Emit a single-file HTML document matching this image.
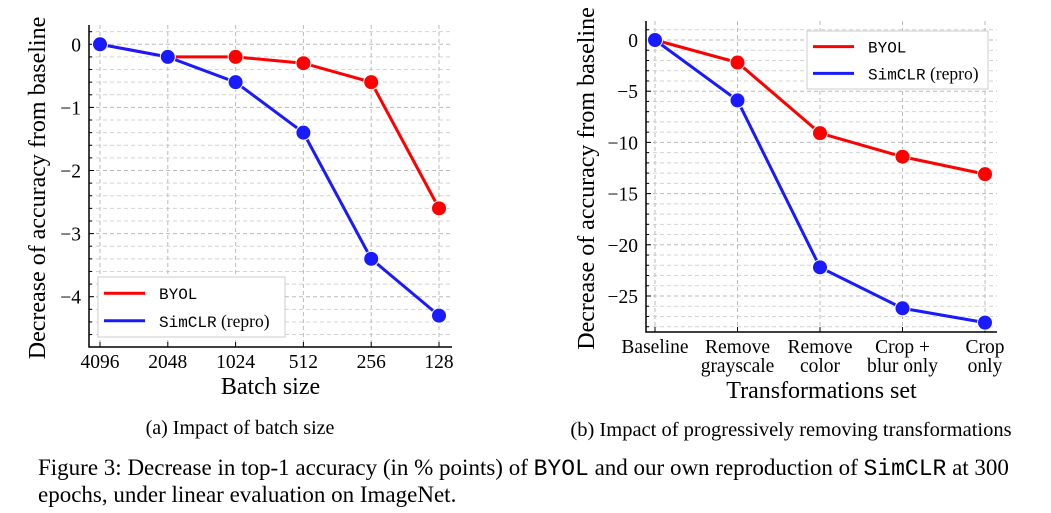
<!DOCTYPE html>
<html><head><meta charset="utf-8"><style>
body{margin:0;background:#fff;width:1051px;height:513px;overflow:hidden}
svg{display:block}
text{font-family:"Liberation Serif",serif;fill:#000}
.mono{font-family:"Liberation Mono",monospace}
</style></head><body>
<svg id="s" width="1051" height="513">
<text x="240" y="434" font-size="20" text-anchor="middle">(a) Impact of batch size</text>
<text x="791" y="436" font-size="20.5" text-anchor="middle">(b) Impact of progressively removing transformations</text>
<text x="38" y="475" font-size="23">Figure 3: Decrease in top-1 accuracy (in % points) of <tspan class="mono">BYOL</tspan> and our own reproduction of <tspan class="mono">SimCLR</tspan> at 300</text>
<text x="38" y="502" font-size="23">epochs, under linear evaluation on ImageNet.</text>
</svg>
<script>
// Chart A
const catsA=["4096","2048","1024","512","256","128"];
const byolA=[0,-0.2,-0.2,-0.3,-0.6,-2.6];
const simA=[0,-0.2,-0.6,-1.4,-3.4,-4.3];
const ticksA=[0,-1,-2,-3,-4];
// Chart B
const catsB=[["Baseline"],["Remove","grayscale"],["Remove","color"],["Crop +","blur only"],["Crop","only"]];
const byolB=[0,-2.2,-9.1,-11.4,-13.1];
const simB=[0,-5.9,-22.2,-26.2,-27.6];
const ticksB=[0,-5,-10,-15,-20,-25];

const NS="http://www.w3.org/2000/svg";
const svg=document.getElementById('s');
function mk(tag,at,parent){const e=document.createElementNS(NS,tag);for(const k in at)e.setAttribute(k,at[k]);(parent||svg).appendChild(e);return e;}

function chart(o){
  const g=mk('g',{});
  
  
  const X=i=>o.x0+i*(o.x1-o.x0)/(o.n-1);
  const Y=v=>o.y0+(0-v)*o.py;
  for(let v=o.ymax;v>=o.ymin;v-=o.minor){
    const vv=Math.round(v/o.minor)*o.minor; if(vv>o.ymax||vv<o.ymin) continue;
    const y=Y(vv);
    const major=o.ticks.some(t=>Math.abs(t-vv)<1e-6);
    const l=mk('line',{x1:o.L,x2:o.R,y1:y,y2:y,stroke:major?'#bbb':'#d4d4d4','stroke-width':1,'stroke-dasharray':'4,3'},g);
    
    
    mk('line',{x1:o.L,x2:o.L+(major?5:3),y1:y,y2:y,stroke:'#000','stroke-width':1},g);
  }
  for(let i=0;i<o.n;i++){
    const l=mk('line',{x1:X(i),x2:X(i),y1:o.T,y2:o.B,stroke:'#bbb','stroke-width':1,'stroke-dasharray':'4,3'},g);
    
    
    mk('line',{x1:X(i),x2:X(i),y1:o.B,y2:o.B-5,stroke:'#000'},g);
  }
  mk('path',{d:`M${o.L},${o.T}V${o.B}H${o.R}`,stroke:'#000','stroke-width':1.5,fill:'none'},g);
  o.ticks.forEach(t=>{
    const tx=mk('text',{x:o.L-8,y:Y(t)+7,'font-size':19.5,'text-anchor':'end'},g);
    tx.textContent=t<0?'\u2212'+(-t):String(t);
    
    
  });
  o.cats.forEach((c,i)=>{
    const lines=Array.isArray(c)?c:[c];
    lines.forEach((s,j)=>{
      const tx=mk('text',{x:X(i),y:o.B+21+j*19,'font-size':19.5,'text-anchor':'middle'},g);
      tx.textContent=s;
      
      
    });
  });
  const xt=mk('text',{x:(o.L+o.R)/2,y:o.xtY,'font-size':24,'text-anchor':'middle'},g);
  xt.textContent=o.xtitle;
  
  
  const yt=mk('text',{x:0,y:0,'font-size':24,'text-anchor':'middle',transform:`translate(${o.ytX},${(o.T+o.B)/2+2}) rotate(-90)`},g);
  yt.textContent='Decrease of accuracy from baseline';
  
  
  [[o.byol,'#f00','byol'],[o.sim,'#1a1aff','simclr']].forEach(([d,col,nm])=>{
    const p=mk('polyline',{points:d.map((v,i)=>X(i)+','+Y(v)).join(' '),stroke:col,'stroke-width':3,fill:'none'},g);
    
    
    d.forEach((v,i)=>{
      const c=mk('circle',{cx:X(i),cy:Y(v),r:7.5,fill:col,stroke:'#fff','stroke-width':1},g);
      
      
    });
  });
  const lg=mk('g',{},g);
  
  
  mk('rect',{x:o.lx,y:o.ly,width:o.lw,height:o.lh,fill:'#fff',stroke:'#ccc'},lg);
  [['BYOL','#f00',0],['SimCLR','#1a1aff',1]].forEach(([t,col,k])=>{
    const y=o.ly+o.lh*(0.27+0.46*k);
    mk('line',{x1:o.lx+6,x2:o.lx+47,y1:y,y2:y,stroke:col,'stroke-width':3},lg);
    const tx=mk('text',{x:o.lx+61,y:y+6,'font-size':17.5},lg);
    tx.innerHTML=k?'<tspan class="mono" font-size="16">SimCLR</tspan> (repro)':'<tspan class="mono" font-size="16">BYOL</tspan>';
    
    
  });
}
chart({name:'chart-batch-size',n:catsA.length,cats:catsA,byol:byolA,sim:simA,ticks:ticksA,
  L:89,R:452,T:25,B:347,x0:100,x1:439,y0:44.3,py:63.1,ymax:0.2,ymin:-4.8,minor:0.2,
  xtitle:'Batch size',xtY:394,ytX:45,lx:98,ly:277,lw:187,lh:60});
chart({name:'chart-transformations',n:catsB.length,cats:catsB,byol:byolB,sim:simB,ticks:ticksB,
  L:646,R:997,T:21,B:332,x0:655,x1:985,y0:40,py:10.24,ymax:1,ymin:-28,minor:1,
  xtitle:'Transformations set',xtY:398,ytX:594,lx:807,ly:31,lw:181,lh:58});
</script>
</body></html>
